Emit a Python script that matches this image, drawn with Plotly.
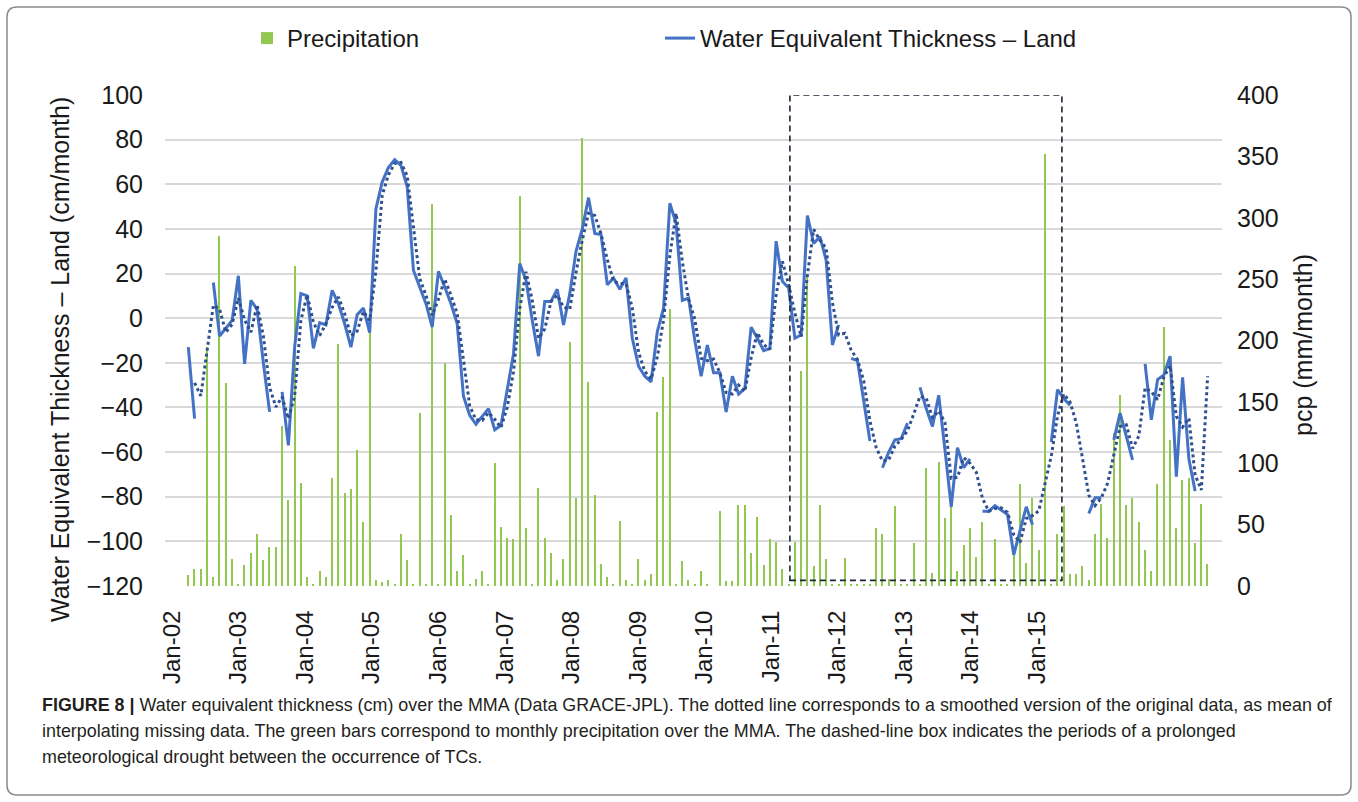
import plotly.graph_objects as go

# ---------------------------------------------------------------------------
# Monthly series (one value per month, first month = index 0)
# ---------------------------------------------------------------------------
precip = [
    9, 14, 14, 195, 7, 285, 165, 22, 2, 17, 27, 42,
    21, 32, 32, 130, 70, 261, 84, 7, 2, 12, 7, 88,
    197, 76, 79, 111, 52, 215, 5, 3, 5, 1, 42, 21,
    1, 141, 1, 311, 1, 182, 58, 12, 25, 1, 6, 12,
    1, 100, 48, 39, 38, 318, 47, 1, 80, 39, 27, 5,
    22, 199, 72, 365, 166, 74, 18, 7, 1, 53, 5, 1,
    22, 5, 10, 142, 170, 226, 1, 20, 5, 2, 12, 1,
    0, 61, 4, 4, 66, 66, 27, 56, 17, 38, 36, 14,
    2, 36, 175, 252, 16, 66, 22, 1, 1, 23, 1, 1,
    1, 1, 47, 42, 6, 65, 1, 1, 35, 1, 96, 11,
    101, 55, 64, 12, 33, 47, 24, 52, 1, 38, 1, 1,
    27, 83, 19, 72, 29, 352, 1, 42, 65, 10, 10, 16,
    5, 42, 67, 39, 125, 156, 66, 72, 52, 29, 12, 83,
    211, 119, 47, 86, 88, 35, 67, 18,
]

# Water equivalent thickness (GRACE), None = missing month
wet_land = [
    -13, -45, None, None, 16, -8, -4.5, -1, 19, -20.5, 8, 4,
    -20, -42, None, -33, -57, -13, 11, 10, -13.5, -2, -3, 12.5,
    6.5, -2.5, -13, 1.5, 4.5, -6.5, 49, 61, 67.5, 71, 68.5, 59,
    21.5, 14, 6.5, -4, 21, 14, 6.5, -2.5, -35, -43.5, -47.5, -44,
    -40.5, -50, -48, -32, -16, 24.5, 17, -1, -17, 7.5, 7.5, 13,
    -3, 11, 30, 40, 54, 38, 37.5, 15, 18, 13, 18, -9,
    -21.5, -26, -28.5, -6, 4.5, 51.5, 42.5, 8, 9, -10, -26, -12,
    -24.5, -24.5, -42, -26, -34, -31.5, -4, -9, -14.5, -13.5, 34.5, 16.5,
    13.5, -9, -7.5, 46, 33.5, 36.5, 26, -12, -3, None, -18, -19,
    -37, -55, None, -67, -60, -54.5, -54, -47, None, -31, -40.5, -48.5,
    -34.5, -59, -84.5, -58, -67, -63, None, -86.5, -86.5, -84, -86, -88,
    -106, -95, -84.5, -92.5, None, None, -55.5, -32, -36, -39, None, None,
    -87.5, -80.5, -80.5, None, -54.5, -42.5, -53, -63.5, None, -20.5, -45.5, -27.5,
    -25.5, -17, -71, -26.5, -63, -77.5, None, None,
]

# Smoothed water equivalent thickness (dotted curve)
wet_smooth = [
    None, -29, -34.8, -14.5, 5.8, 4, -6.3, -2.8, 9, -0.8, -6.3, 6,
    -8, -31, -39.8, -35.3, -45, -35, -1, 10.5, -1.8, -7.8, -2.5, 4.8,
    9.5, 2, -7.8, -5.8, 3, -1, 21.3, 55, 64.3, 69.3, 69.8, 63.8,
    40.3, 17.8, 10.3, 1.3, 8.5, 17.5, 10.3, 2, -18.8, -39.3, -45.5, -45.8,
    -42.3, -45.3, -49, -40, -24, 4.3, 20.8, 8, -9, -4.8, 7.5, 10.3,
    5, 4, 20.5, 35, 47, 46, 37.8, 26.3, 16.5, 15.5, 15.5, 4.5,
    -15.3, -23.8, -27.3, -17.3, -0.8, 28, 47, 25.3, 8.5, -0.5, -18, -19,
    -18.3, -24.5, -33.3, -34, -30, -32.8, -17.8, -6.5, -11.8, -14, 10.5, 25.5,
    15, 2.3, -8.3, 19.3, 39.8, 35, 31.3, 7, -7.5, -6.8, -14.3, -18.5,
    -28, -46, -58, -64, -63.5, -57.3, -54.3, -50.5, -43, -35, -35.8, -44.5,
    -41.5, -46.8, -71.8, -71.3, -62.5, -65, -69, -80.8, -86.5, -85.3, -85, -87,
    -97, -100.5, -89.8, -88.5, -86.3, -74, -61.8, -43.8, -34, -37.5, -47, -63,
    -79.3, -84, -80.5, -74, -61, -48.5, -47.8, -58.3, -52.8, -31.3, -33, -36.5,
    -26.5, -21.3, -44, -48.8, -44.8, -70.3, -77, -26,
]

x_labels = ["Jan-02", "Jan-03", "Jan-04", "Jan-05", "Jan-06", "Jan-07", "Jan-08",
            "Jan-09", "Jan-10", "Jan-11", "Jan-12", "Jan-13", "Jan-14", "Jan-15"]

month_idx = list(range(len(precip)))

# ---------------------------------------------------------------------------
# Layout constants (pixels on a 1358 x 802 page)
# ---------------------------------------------------------------------------
W, H = 1358, 802
PLOT_L, PLOT_R, PLOT_T, PLOT_B = 165, 1222, 95, 586
X_RANGE = [-3.73, 165.3]
TICK_START, TICK_STEP = -2.6, 10.64
BOX_X = [96.2, 139.7]      # drought period box, in month-index units
BOX_Y = [-117.5, 100]

GREEN = "#92C850"
BLUE = "#4472C4"
DARK_BLUE = "#2F4F8F"
FONT = "Liberation Sans, Arial, sans-serif"
TXT = "#1a1a1a"
CAPTION_FONT = dict(size=17.9, family=FONT, color="#231f20")
LEGEND_FONT = dict(size=24, family=FONT, color=TXT)

fig = go.Figure()
fig.add_trace(go.Bar(
    x=month_idx, y=precip, name="Precipitation", yaxis="y", legend="legend",
    marker=dict(color=GREEN, line=dict(width=0)), width=0.2,
))
fig.add_trace(go.Scatter(
    x=month_idx, y=wet_land, name="Water Equivalent Thickness \u2013 Land",
    yaxis="y2", legend="legend2", mode="lines", connectgaps=False,
    line=dict(color=BLUE, width=3),
))
fig.add_trace(go.Scatter(
    x=month_idx, y=wet_smooth, name="Smoothed", showlegend=False,
    yaxis="y2", mode="lines", connectgaps=True,
    line=dict(color=DARK_BLUE, width=3, dash="dot"),
))


def px_x(v):
    return v / W


def px_y(v):
    return 1 - v / H


def rounded_rect(x0, y0, x1, y1, r):
    rx, ry = r / W, r / H
    a, b, c, d = px_x(x0), px_y(y0), px_x(x1), px_y(y1)
    return (f"M {a+rx},{b} L {c-rx},{b} Q {c},{b} {c},{b-ry} "
            f"L {c},{d+ry} Q {c},{d} {c-rx},{d} L {a+rx},{d} "
            f"Q {a},{d} {a},{d+ry} L {a},{b-ry} Q {a},{b} {a+rx},{b} Z")


tick_vals = [TICK_START + i * TICK_STEP for i in range(len(x_labels))]

legend_common = dict(orientation="h", y=px_y(16), xanchor="left", yanchor="top",
                     font=LEGEND_FONT, bgcolor="rgba(0,0,0,0)", itemwidth=30)

fig.update_layout(
    width=W, height=H,
    margin=dict(l=0, r=0, t=0, b=0, autoexpand=False),
    paper_bgcolor="white", plot_bgcolor="white",
    font=dict(family=FONT, color=TXT),
    bargap=0,
    showlegend=True,
    legend=dict(x=px_x(247), **legend_common),
    legend2=dict(x=px_x(660), **legend_common),
    xaxis=dict(
        domain=[px_x(PLOT_L), px_x(PLOT_R)], range=X_RANGE,
        tickmode="array", tickvals=tick_vals, ticktext=x_labels, tickangle=-90,
        ticks="outside", ticklen=14, tickcolor="rgba(0,0,0,0)",
        showgrid=False, zeroline=False, showline=False,
        tickfont=dict(size=24, family=FONT, color=TXT),
    ),
    yaxis=dict(
        domain=[px_y(PLOT_B), px_y(PLOT_T)], range=[0, 400], dtick=50,
        side="right", anchor="x", showgrid=False, zeroline=False, showline=False,
        ticks="outside", ticklen=9, tickcolor="rgba(0,0,0,0)",
        tickfont=dict(size=25, family=FONT, color=TXT),
    ),
    yaxis2=dict(
        overlaying="y", side="left", anchor="x", range=[-120, 100], dtick=20,
        showgrid=True, gridcolor="#D9D9D9", gridwidth=1.5,
        zeroline=False, showline=False,
        ticks="outside", ticklen=16, tickcolor="rgba(0,0,0,0)",
        tickfont=dict(size=25, family=FONT, color=TXT),
    ),
    shapes=[
        dict(type="rect", xref="x", yref="y2", x0=BOX_X[0], x1=BOX_X[1],
             y0=BOX_Y[0], y1=BOX_Y[1], layer="above",
             line=dict(color="#1c2438", width=1.6, dash="6px,4px")),
        dict(type="path", xref="paper", yref="paper",
             path=rounded_rect(7, 7, 1351, 795, 10),
             line=dict(color="#8a8a8a", width=1.5)),
    ],
    annotations=[
        dict(text="Water Equivalent Thickness \u2013 Land (cm/month)", textangle=-90,
             xref="paper", yref="paper", x=px_x(60), y=px_y(360),
             xanchor="center", yanchor="middle", showarrow=False,
             font=dict(size=25, family=FONT, color=TXT)),
        dict(text="pcp (mm/month)", textangle=-90,
             xref="paper", yref="paper", x=px_x(1303), y=px_y(345),
             xanchor="center", yanchor="middle", showarrow=False,
             font=dict(size=25, family=FONT, color=TXT)),
        dict(text="<b>FIGURE 8 |</b> Water equivalent thickness (cm) over the MMA (Data GRACE-JPL). "
                  "The dotted line corresponds to a smoothed version of the original data, as mean of",
             xref="paper", yref="paper", x=px_x(40), y=px_y(705),
             xanchor="left", yanchor="middle", showarrow=False, align="left",
             font=CAPTION_FONT),
        dict(text="interpolating missing data. The green bars correspond to monthly precipitation over the MMA. "
                  "The dashed-line box indicates the periods of a prolonged",
             xref="paper", yref="paper", x=px_x(40), y=px_y(731),
             xanchor="left", yanchor="middle", showarrow=False, align="left",
             font=CAPTION_FONT),
        dict(text="meteorological drought between the occurrence of TCs.",
             xref="paper", yref="paper", x=px_x(40), y=px_y(757),
             xanchor="left", yanchor="middle", showarrow=False, align="left",
             font=CAPTION_FONT),
    ],
)

fig.write_html("out.html")
